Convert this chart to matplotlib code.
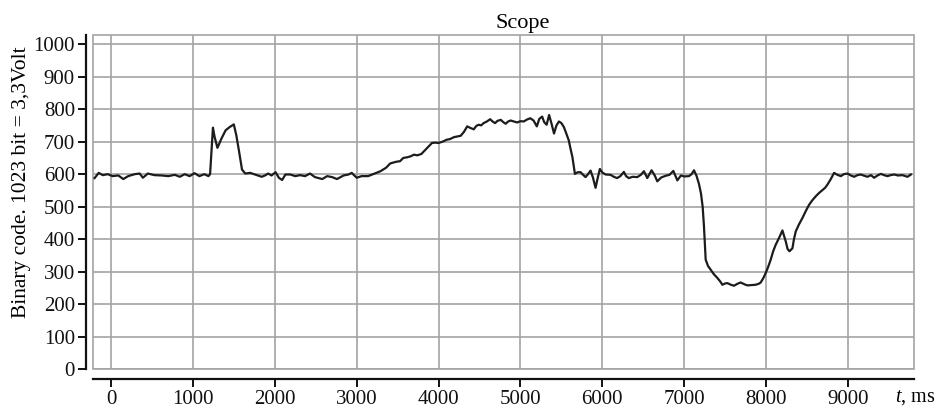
import matplotlib
matplotlib.use("Agg")
import matplotlib.pyplot as plt
from matplotlib.patches import Rectangle

plt.rcParams["font.family"] = ["Liberation Serif", "DejaVu Serif"]
plt.rcParams["mathtext.fontset"] = "custom"
plt.rcParams["mathtext.rm"] = "Liberation Serif"
plt.rcParams["mathtext.it"] = "Liberation Serif:italic"

# samples (time in ms, binary code)
time_ms = [
    -200, -150, -100, -40, 20, 90, 150, 210, 290, 350, 390, 450, 530, 620,
    700, 780, 840, 900, 960, 1020, 1080, 1140, 1190,
    1210, 1225, 1245, 1265, 1300, 1350, 1400, 1450, 1500, 1530, 1560, 1600,
    1640, 1700, 1760, 1840, 1880, 1920, 1960, 2010, 2050, 2090, 2130, 2190,
    2250, 2310, 2370, 2430, 2490, 2580, 2640, 2700, 2760, 2840, 2900, 2940,
    3000, 3060, 3140, 3220, 3290, 3360, 3410, 3480, 3530, 3570, 3620, 3660,
    3700, 3740, 3790, 3820, 3870, 3920, 3960, 4000, 4050, 4100, 4140, 4190,
    4230, 4270, 4310, 4350, 4390, 4430, 4460, 4490, 4520, 4550, 4590, 4630,
    4660, 4690, 4720, 4760, 4790, 4820, 4850, 4880, 4920, 4960, 5000, 5040,
    5080, 5120, 5160, 5200, 5230, 5265, 5290, 5320, 5350, 5380, 5410, 5440,
    5470, 5500, 5530, 5560, 5590, 5610, 5635, 5665, 5700, 5735, 5765, 5795,
    5825, 5856, 5885, 5917, 5945, 5970, 6000, 6040, 6100, 6140, 6180, 6220,
    6263, 6290, 6324, 6370, 6427, 6470, 6508, 6549, 6601, 6640, 6671, 6720,
    6773, 6820, 6867, 6916, 6960, 7000, 7058, 7090, 7119, 7150, 7180, 7205,
    7225, 7241, 7262, 7290, 7323, 7360, 7404, 7440, 7466, 7500, 7527, 7570,
    7608, 7650, 7689, 7730, 7771, 7820, 7873, 7910, 7934, 7965, 7995, 8025,
    8056, 8085, 8117, 8160, 8199, 8220, 8240, 8262, 8285, 8321, 8340, 8362,
    8400, 8443, 8485, 8525, 8565, 8606, 8650, 8688, 8720, 8749, 8790, 8830,
    8870, 8912, 8950, 8994, 9035, 9075, 9115, 9156, 9200, 9238, 9280, 9319,
    9360, 9401, 9440, 9482, 9520, 9564, 9610, 9666, 9700, 9727, 9768,
]
code = [
    588, 604, 597, 600, 594, 596, 585, 594, 600, 602, 589, 602, 597, 596,
    594, 598, 592, 600, 594, 603, 594, 600, 594,
    600, 660, 743, 715, 681, 710, 735, 745, 753, 720, 676, 614,
    602, 604, 599, 592, 596, 602, 596, 606, 589, 582, 599, 599,
    594, 597, 594, 602, 591, 585, 594, 591, 585, 596, 599, 604,
    589, 594, 594, 602, 609, 620, 633, 638, 640, 650, 652, 655,
    660, 658, 662, 670, 683, 696, 697, 696, 700, 706, 708, 714,
    716, 718, 730, 747, 742, 738, 748, 752, 750, 757, 762, 769,
    762, 757, 764, 767, 760, 755, 762, 765, 762, 759, 763, 762,
    768, 772, 765, 747, 770, 777, 760, 752, 782, 755, 725, 750,
    762, 757, 745, 725, 704, 680, 652, 601, 606, 606, 598, 591,
    600, 611, 590, 558, 590, 616, 605, 599, 598, 592, 588, 594,
    607, 594, 588, 592, 591, 598, 609, 588, 612, 596, 578, 590,
    595, 598, 610, 581, 596, 593, 594, 600, 612, 595, 570, 540,
    500, 440, 337, 318, 306, 293, 281, 270, 260, 264, 265, 260,
    257, 263, 267, 262, 258, 259, 260, 263, 267, 280, 296, 315,
    337, 362, 383, 405, 427, 410, 393, 370, 363, 372, 400, 424,
    445, 465, 487, 506, 520, 532, 543, 551, 558, 568, 585, 604,
    598, 594, 600, 602, 596, 592, 597, 599, 595, 592, 597, 589,
    596, 601, 597, 594, 597, 599, 596, 597, 594, 592, 599,
]

x_ticks = [0, 1000, 2000, 3000, 4000, 5000, 6000, 7000, 8000, 9000]
y_ticks = [0, 100, 200, 300, 400, 500, 600, 700, 800, 900, 1000]

fig = plt.figure(figsize=(9.41, 4.13), dpi=100)
ax = fig.add_axes([0.0988, 0.1058, 0.8720, 0.8095])

ax.plot(time_ms, code, color="#1c1c1c", linewidth=1.6, zorder=3)

ax.set_xlim(-220, 9800)
ax.set_ylim(0, 1028)
ax.set_xticks(x_ticks)
ax.set_yticks(y_ticks)
ax.grid(True, color="#a3a3a3", linewidth=1.2)
ax.set_axisbelow(True)

# gray plot frame, black axes drawn slightly outside it
ax.add_patch(Rectangle((0, 0), 1, 1, transform=ax.transAxes, fill=False,
                       edgecolor="#a3a3a3", linewidth=1.2, zorder=2,
                       clip_on=False))
ax.spines["top"].set_visible(False)
ax.spines["right"].set_visible(False)
ax.spines["left"].set_position(("outward", 5))
ax.spines["bottom"].set_position(("outward", 7))
ax.spines["left"].set_bounds(0, 1028)
for side in ("left", "bottom"):
    ax.spines[side].set_linewidth(1.6)
    ax.spines[side].set_color("#111111")

ax.tick_params(axis="both", labelsize=15, colors="#111111", width=1.4,
               length=6, pad=2)

ax.set_title("Scope", fontsize=16, x=0.524, pad=5)
ax.set_ylabel("Binary code. 1023 bit = 3,3Volt", fontsize=15.5)
ax.yaxis.set_label_coords(-0.075, 0.561)
fig.text(0.951, 0.014, r"$t$, ms", fontsize=14.5, ha="left", va="bottom")

fig.savefig("out.png", dpi=100)
